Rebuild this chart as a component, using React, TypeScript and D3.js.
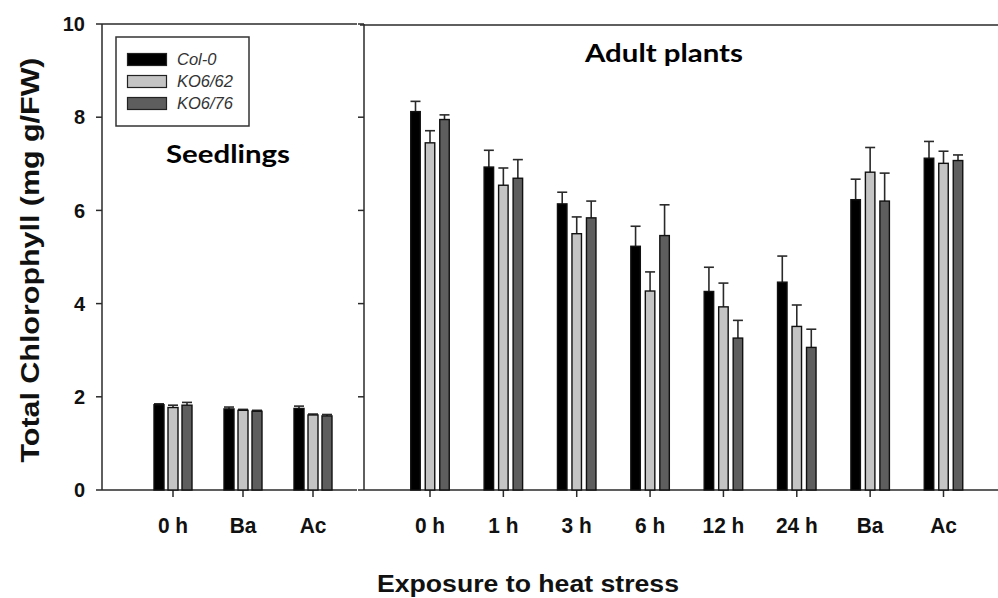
import React from "react";
import * as d3 from "d3";

// Series names and fills
const seriesNames = ["Col-0", "KO6/62", "KO6/76"];
const seriesColors = ["#000000", "#c4c4c4", "#5e5e5e"];

// Seedlings panel
const seedlingCats = ["0 h", "Ba", "Ac"];
const seedlingCol0 = [1.83, 1.74, 1.75];
const seedlingKO62 = [1.77, 1.71, 1.61];
const seedlingKO76 = [1.82, 1.69, 1.59];
const seedlingErrCol0 = [0.02, 0.04, 0.05];
const seedlingErrKO62 = [0.05, 0.02, 0.02];
const seedlingErrKO76 = [0.06, 0.02, 0.03];

// Adult plants panel
const adultCats = ["0 h", "1 h", "3 h", "6 h", "12 h", "24 h", "Ba", "Ac"];
const adultCol0 = [8.12, 6.93, 6.14, 5.23, 4.26, 4.46, 6.23, 7.12];
const adultKO62 = [7.45, 6.54, 5.5, 4.27, 3.93, 3.51, 6.82, 7.01];
const adultKO76 = [7.95, 6.69, 5.84, 5.46, 3.26, 3.06, 6.2, 7.07];
const adultErrCol0 = [0.22, 0.36, 0.25, 0.43, 0.52, 0.56, 0.44, 0.36];
const adultErrKO62 = [0.26, 0.37, 0.36, 0.41, 0.51, 0.46, 0.53, 0.26];
const adultErrKO76 = [0.1, 0.4, 0.36, 0.66, 0.38, 0.39, 0.6, 0.12];

const yTicks = [0, 2, 4, 6, 8, 10];

const W = 998;
const H = 598;
const axisColor = "#2a2a2a";

const y = d3.scaleLinear().domain([0, 10]).range([490, 24]);
const xSeed = d3.scalePoint<string>().domain(seedlingCats).range([173, 313]);
const xAdult = d3.scalePoint<string>().domain(adultCats).range([430, 943.5]);

type Panel = {
  cats: string[];
  x: d3.ScalePoint<string>;
  values: number[][];
  errors: number[][];
  step: number;
  barW: number;
};

const panels: Panel[] = [
  {
    cats: seedlingCats,
    x: xSeed,
    values: [seedlingCol0, seedlingKO62, seedlingKO76],
    errors: [seedlingErrCol0, seedlingErrKO62, seedlingErrKO76],
    step: 14,
    barW: 10,
  },
  {
    cats: adultCats,
    x: xAdult,
    values: [adultCol0, adultKO62, adultKO76],
    errors: [adultErrCol0, adultErrKO62, adultErrKO76],
    step: 14.5,
    barW: 9.5,
  },
];

const tickFont = "'Liberation Sans', Arial, sans-serif";
const titleFont = "Lato, 'Open Sans', sans-serif";

function Bars({ p }: { p: Panel }) {
  const out: React.ReactNode[] = [];
  p.cats.forEach((c, ci) => {
    const cx = p.x(c) as number;
    p.values.forEach((vals, si) => {
      const v = vals[ci];
      const e = p.errors[si][ci];
      const bx = cx + (si - 1) * p.step - p.barW / 2;
      const mid = bx + p.barW / 2;
      out.push(
        <g key={`${c}-${si}`}>
          <line x1={mid} x2={mid} y1={y(v)} y2={y(v + e)} stroke={axisColor} strokeWidth={1.6} />
          <line x1={mid - 5} x2={mid + 5} y1={y(v + e)} y2={y(v + e)} stroke={axisColor} strokeWidth={1.6} />
          <rect x={bx} y={y(v)} width={p.barW} height={y(0) - y(v)} fill={seriesColors[si]} stroke="#111" strokeWidth={1.4} />
        </g>
      );
    });
  });
  return <g>{out}</g>;
}

export default function App() {
  const leftX = 102;
  const leftEnd = 357;
  const rightX = 364;
  return (
    <svg width={W} height={H} style={{ position: "absolute", left: 0, top: 0, background: "#fff" }}>
      <rect x={0} y={0} width={W} height={H} fill="#fff" />
      {/* Seedlings frame */}
      <line x1={leftX} x2={leftEnd} y1={y(10)} y2={y(10)} stroke={axisColor} strokeWidth={1.5} />
      <line x1={leftX} x2={leftX} y1={y(10)} y2={y(0)} stroke={axisColor} strokeWidth={1.5} />
      <line x1={leftX} x2={leftEnd} y1={y(0)} y2={y(0)} stroke={axisColor} strokeWidth={1.5} />
      {/* Adult plants frame */}
      <line x1={rightX - 4} x2={W} y1={y(10) + 1} y2={y(10) + 1} stroke={axisColor} strokeWidth={1.5} />
      <line x1={rightX} x2={rightX} y1={y(10)} y2={y(0)} stroke={axisColor} strokeWidth={1.5} />
      <line x1={rightX} x2={W} y1={y(0)} y2={y(0)} stroke={axisColor} strokeWidth={1.5} />

      {/* y ticks */}
      {yTicks.map((t) => (
        <g key={t}>
          <line x1={leftX - 6} x2={leftX} y1={y(t)} y2={y(t)} stroke={axisColor} strokeWidth={1.5} />
          <line x1={rightX - 6} x2={rightX} y1={y(t)} y2={y(t)} stroke={axisColor} strokeWidth={1.5} />
          <text x={85} y={y(t)} dy="0.36em" textAnchor="end" fontFamily={tickFont} fontWeight="bold" fontSize={20} fill="#111">
            {t}
          </text>
        </g>
      ))}

      {/* x ticks and labels */}
      {panels.map((p, pi) =>
        p.cats.map((c) => {
          const cx = p.x(c) as number;
          return (
            <g key={`${pi}-${c}`}>
              <line x1={cx} x2={cx} y1={y(0)} y2={y(0) + 7} stroke={axisColor} strokeWidth={1.5} />
              <text x={cx} y={533} textAnchor="middle" fontFamily={tickFont} fontWeight="bold" fontSize={22} fill="#111" transform={`translate(${cx},0) scale(0.95,1) translate(${-cx},0)`}>
                {c}
              </text>
            </g>
          );
        })
      )}

      {panels.map((p, pi) => (
        <Bars key={pi} p={p} />
      ))}

      {/* Legend */}
      <rect x={116} y={37} width={133} height={89} fill="#fff" stroke="#333" strokeWidth={1.5} />
      {seriesNames.map((s, i) => (
        <g key={s}>
          <rect x={127.5} y={53.5 + i * 22} width={39} height={12} fill={seriesColors[i]} stroke="#222" strokeWidth={1.2} />
          <text x={177} y={59.5 + i * 22} dy="0.36em" fontFamily={tickFont} fontStyle="italic" fontSize={16.5} fill="#333">
            {s}
          </text>
        </g>
      ))}

      {/* Panel titles */}
      <text x={228} y={163} textAnchor="middle" fontFamily={titleFont} fontWeight="bold" fontSize={25} fill="#000" textLength={124} lengthAdjust="spacingAndGlyphs">
        Seedlings
      </text>
      <text x={664} y={62} textAnchor="middle" fontFamily={titleFont} fontWeight="bold" fontSize={25} fill="#000" textLength={158} lengthAdjust="spacingAndGlyphs">
        Adult plants
      </text>

      {/* Axis titles */}
      <text transform="translate(39,260) rotate(-90)" textAnchor="middle" fontFamily={tickFont} fontWeight="bold" fontSize={25} fill="#111" textLength={405} lengthAdjust="spacingAndGlyphs">
        Total Chlorophyll (mg g/FW)
      </text>
      <text x={528} y={592} textAnchor="middle" fontFamily={tickFont} fontWeight="bold" fontSize={23} fill="#111" textLength={302} lengthAdjust="spacingAndGlyphs">
        Exposure to heat stress
      </text>
    </svg>
  );
}
